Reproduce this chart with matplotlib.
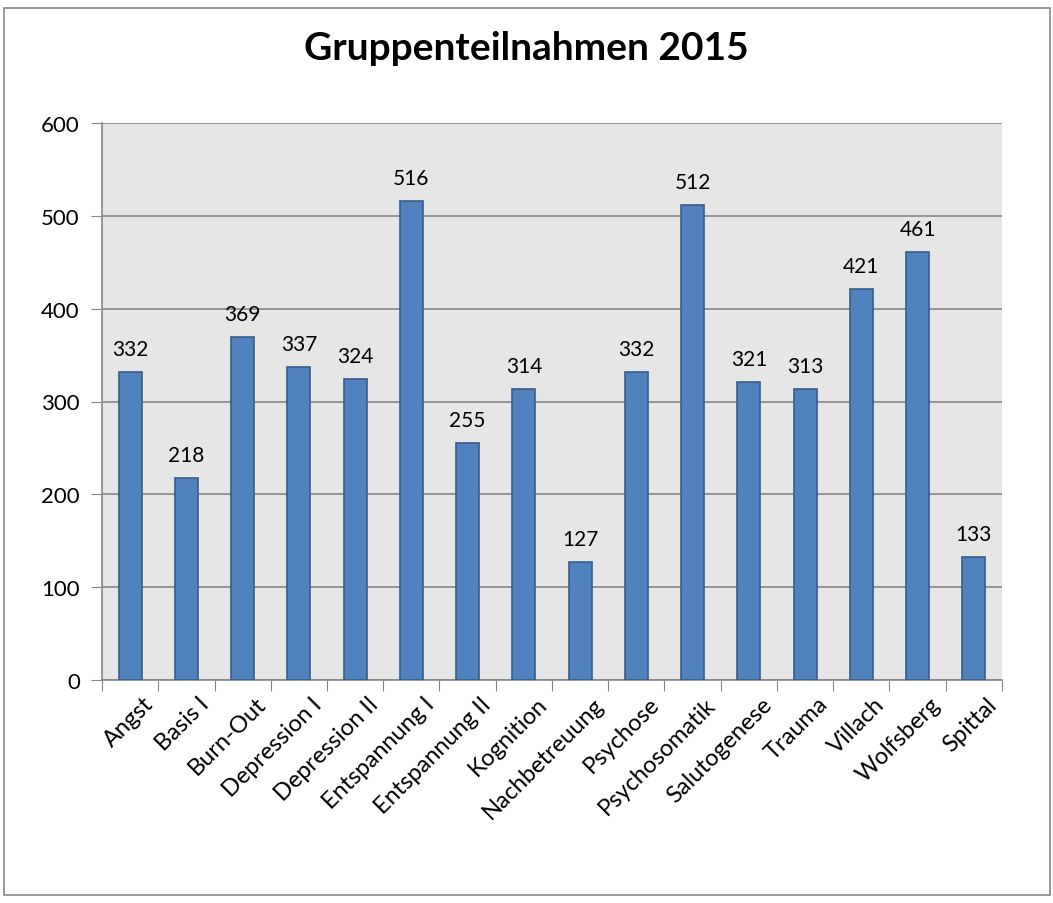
import matplotlib.pyplot as plt
from matplotlib.patches import Rectangle
import numpy as np

plt.rcParams['font.family'] = ['Lato', 'DejaVu Sans']

categories = ['Angst', 'Basis I', 'Burn-Out', 'Depression I', 'Depression II',
              'Entspannung I', 'Entspannung II', 'Kognition', 'Nachbetreuung',
              'Psychose', 'Psychosomatik', 'Salutogenese', 'Trauma', 'Villach',
              'Wolfsberg', 'Spittal']
values = [332, 218, 369, 337, 324, 516, 255, 314, 127, 332, 512, 321, 313,
          421, 461, 133]
yticks = [0, 100, 200, 300, 400, 500, 600]

fig = plt.figure(figsize=(10.53, 9.04), dpi=100)
ax = fig.add_axes([102 / 1053, 1 - 681 / 904, 900 / 1053, 557 / 904])

# chart border
fig.patches.append(Rectangle((4 / 1053, 1 - 896 / 904), 1046 / 1053, 887 / 904,
                             transform=fig.transFigure, fill=False,
                             edgecolor='#888888', linewidth=1.2))

x = np.arange(len(categories))
ax.set_facecolor('#E6E6E6')
ax.bar(x, values, width=0.41, color='#4F81BD', edgecolor='#385D8A',
       linewidth=1.2, zorder=3)
for xi, v in zip(x, values):
    ax.text(xi, v + 14, str(v), ha='center', va='bottom', fontsize=15,
            color='black')

ax.set_xlim(-0.5, len(categories) - 0.5)
ax.set_ylim(0, 600)
ax.set_yticks(yticks)
ax.tick_params(axis='y', labelsize=16, length=8, color='#868686', pad=8)
ax.yaxis.grid(True, color='#868686', linewidth=1.2, zorder=1)

ax.set_xticks(np.arange(len(categories) + 1) - 0.5)
ax.set_xticklabels([])
ax.tick_params(axis='x', length=8, color='#868686')
for xi, name in zip(x, categories):
    ax.text(xi + 0.22, -14, name, rotation=45, ha='right', va='top',
            rotation_mode='anchor', fontsize=17,
            transform=ax.transData, clip_on=False)

for side in ['top', 'right']:
    ax.spines[side].set_visible(False)
for side in ['left', 'bottom']:
    ax.spines[side].set_color('#868686')
    ax.spines[side].set_linewidth(1.2)

fig.text(0.5, 1 - 48 / 904, 'Gruppenteilnahmen 2015', ha='center',
         va='center', fontsize=28, fontweight='bold')

fig.savefig('out.png', dpi=100)
